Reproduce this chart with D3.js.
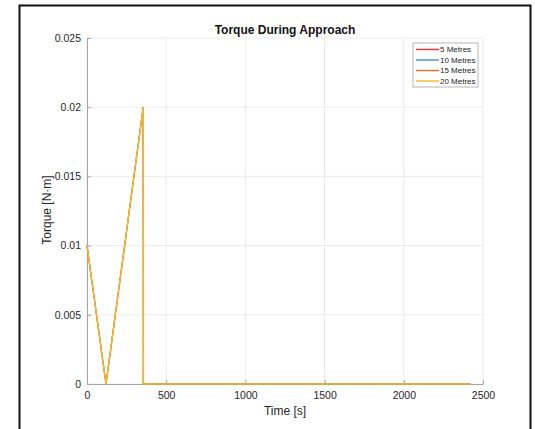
<!DOCTYPE html>
<html>
<head>
<meta charset="utf-8">
<script src="https://cdn.jsdelivr.net/npm/d3@7"></script>
<style>
  body { margin: 0; background: #fff; }
  svg { font-family: "Liberation Sans", Arial, sans-serif; }
</style>
</head>
<body>
<div id="chart"></div>
<script>
// series names and colours (legend order)
const seriesNames = ["5 Metres", "10 Metres", "15 Metres", "20 Metres"]
const seriesColors = ["#ff2b2b", "#3d8fd6", "#ef6a30", "#f2b630"]

// time [s] and torque [N·m] (all series overlap)
const timeValues = [0, 120, 355, 356, 2420]
const torqueValues = [0.01, 0, 0.02, 0, 0]

const xTicks = [0, 500, 1000, 1500, 2000, 2500]
const yTicks = [0, 0.005, 0.01, 0.015, 0.02, 0.025]

const width = 535
const height = 429
const margin = { left: 87, right: 52, top: 38, bottom: 45 }

const svg = d3.select("#chart")
  .append("svg")
  .attr("width", width)
  .attr("height", height)

// figure frame
svg.append("rect")
  .attr("x", 19.5).attr("y", 5.5)
  .attr("width", 511).attr("height", 440)
  .attr("fill", "none")
  .attr("stroke", "#111")
  .attr("stroke-width", 2)

const xScale = d3.scaleLinear()
  .domain([0, 2500])
  .range([margin.left, width - margin.right])

const yScale = d3.scaleLinear()
  .domain([0, 0.025])
  .range([height - margin.bottom, margin.top])

// grid
svg.append("g")
  .selectAll("line")
  .data(xTicks)
  .join("line")
  .attr("x1", d => xScale(d)).attr("x2", d => xScale(d))
  .attr("y1", yScale(0)).attr("y2", yScale(0.025))
  .attr("stroke", "#ebebeb")

svg.append("g")
  .selectAll("line")
  .data(yTicks)
  .join("line")
  .attr("x1", xScale(0)).attr("x2", xScale(2500))
  .attr("y1", d => yScale(d)).attr("y2", d => yScale(d))
  .attr("stroke", "#ebebeb")

// axes (MATLAB style: ticks point inward)
const xAxis = d3.axisBottom(xScale)
  .tickValues(xTicks)
  .tickSize(-4)
  .tickPadding(8)
  .tickFormat(d3.format("d"))

const gx = svg.append("g")
  .attr("transform", "translate(0," + yScale(0) + ")")
  .call(xAxis)

const yAxis = d3.axisLeft(yScale)
  .tickValues(yTicks)
  .tickSize(-4)
  .tickPadding(6)
  .tickFormat(d => d === 0 ? "0" : String(+d.toFixed(3)))

const gy = svg.append("g")
  .attr("transform", "translate(" + xScale(0) + ",0)")
  .call(yAxis)

for (const g of [gx, gy]) {
  g.select(".domain").attr("stroke", "#a6a6a6")
  g.selectAll(".tick line").attr("stroke", "#a6a6a6")
  g.selectAll(".tick text")
    .attr("fill", "#262626")
    .style("font-size", "10.5px")
}

// lines (yellow series drawn last and covers the others)
const line = d3.line()
  .x((d, i) => xScale(timeValues[i]))
  .y(d => yScale(d))

svg.append("g")
  .selectAll("path")
  .data(seriesNames)
  .join("path")
  .attr("d", () => line(torqueValues))
  .attr("fill", "none")
  .attr("stroke", (d, i) => seriesColors[i])
  .attr("stroke-width", (d, i) => i === 3 ? 1.6 : 1)

// labels
svg.append("text")
  .attr("x", 285).attr("y", 34)
  .attr("text-anchor", "middle")
  .style("font-size", "12px")
  .style("font-weight", "bold")
  .attr("fill", "#111")
  .text("Torque During Approach")

svg.append("text")
  .attr("x", 285).attr("y", 415)
  .attr("text-anchor", "middle")
  .style("font-size", "12px")
  .attr("fill", "#262626")
  .text("Time [s]")

svg.append("text")
  .attr("transform", "translate(51," + 210 + ") rotate(-90)")
  .attr("text-anchor", "middle")
  .style("font-size", "12px")
  .attr("fill", "#262626")
  .text("Torque [N·m]")

// legend
const legend = svg.append("g").attr("transform", "translate(413,43)")
legend.append("rect")
  .attr("width", 65).attr("height", 44)
  .attr("fill", "#fff")
  .attr("stroke", "#a6a6a6")
  .attr("stroke-width", 0.8)

seriesNames.forEach((name, i) => {
  const y = 6.5 + i * 10.5
  legend.append("line")
    .attr("x1", 3).attr("x2", 26)
    .attr("y1", y).attr("y2", y)
    .attr("stroke", seriesColors[i])
    .attr("stroke-width", 1.4)
  legend.append("text")
    .attr("x", 27).attr("y", y + 2.8)
    .style("font-size", "8px")
    .attr("fill", "#222")
    .text(name)
})
</script>
</body>
</html>
